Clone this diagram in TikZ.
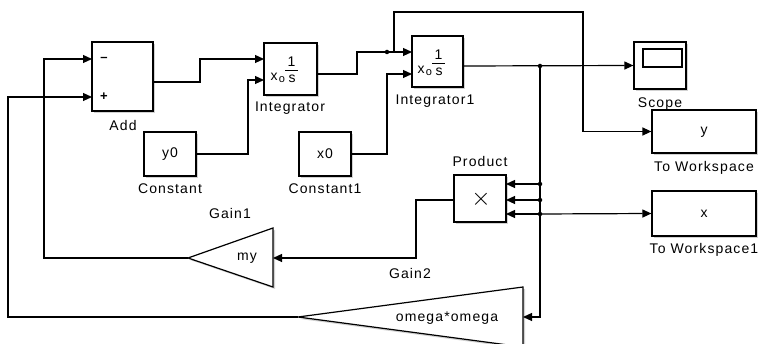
\documentclass[tikz,border=0pt]{standalone}
\usepackage{fontspec}
\setmainfont{Liberation Sans}
\newfontfamily\simfont[LetterSpace=8]{Liberation Sans}
\usetikzlibrary{arrows.meta,shadows}
\begin{document}
\begin{tikzpicture}[x=1pt,y=-1pt, line width=1.2pt,
  shad/.style={drop shadow={shadow xshift=2pt, shadow yshift=-2pt, fill=black!35, opacity=0.5}},
  blk/.style={draw, line width=1.2pt, fill=white, inner sep=0pt, shad},
  lbl/.style={font=\simfont\fontsize{14}{14}\selectfont, inner sep=0pt},
  txt/.style={font=\simfont\fontsize{14}{14}\selectfont, inner sep=0pt},
  sig/.style={-{Triangle[length=9pt,width=8pt]}},
  bdot/.style={circle, fill, inner sep=0pt, minimum size=4.5pt}]
\useasboundingbox (0,0) rectangle (761,344);
\clip (0,0) rectangle (761,344);
% blocks
\node[blk, minimum width=61pt, minimum height=69pt] (add) at (122.5,76.5) {};
\node[blk, minimum width=53pt, minimum height=52pt] (int) at (290.5,69) {};
\node[blk, minimum width=52pt, minimum height=44pt] (c0) at (170,154) {};
\node[blk, minimum width=52pt, minimum height=44pt] (c1) at (325,154) {};
\node[blk, minimum width=51pt, minimum height=51pt] (int1) at (437.5,61.5) {};
\node[blk, minimum width=52pt, minimum height=47pt] (scope) at (660,65.5) {};
\node[blk, minimum width=104pt, minimum height=43pt] (tows) at (704,131.5) {};
\node[blk, minimum width=104pt, minimum height=45pt] (tows1) at (704,213.5) {};
\node[blk, minimum width=52pt, minimum height=47pt] (prod) at (480,198.5) {};
\coordinate (g1tip) at (188,258);
\coordinate (g1in) at (273,258);
\path[draw, fill=white, shad] (g1tip) -- (273,228) -- (273,287) -- cycle;
\coordinate (g2tip) at (298,317);
\coordinate (g2in) at (523,317);
\path[draw, fill=white, shad] (g2tip) -- (523,287) -- (523,347) -- cycle;
% block contents
\node[txt] (y0t) at (170,154) {y0};
\node[txt] (x0t) at (325,154) {x0};
\node[txt] (yt) at (704,132) {y};
\node[txt] (xt) at (704,214) {x};
\node[txt] (myt) at (247,258) {my};
\node[txt] (omt) at (447,318) {omega*omega};
\node[font=\fontsize{24}{24}\selectfont, inner sep=0pt] (times) at (481,199) {$\times$};
\node[font=\bfseries\fontsize{13}{13}\selectfont, inner sep=0pt] (minus) at (104,59) {\char"2013};
\node[font=\bfseries\fontsize{13}{13}\selectfont, inner sep=0pt] (plus) at (104,97) {+};
\draw[line width=1.2pt] (643,49) rectangle (682,67);
% integrator contents
\node[txt] (i1n) at (291.5,62) {1};
\draw[line width=1pt] (285,70.5) -- (298,70.5);
\node[txt] (i1s) at (292,79) {s};
\node[font=\fontsize{14}{14}\selectfont, inner sep=0pt] (i1x) at (274,77) {x};
\node[font=\fontsize{11}{11}\selectfont, inner sep=0pt] (i1o) at (282,80) {o};
\node[txt] (i2n) at (438.5,55) {1};
\draw[line width=1pt] (432,63.5) -- (445,63.5);
\node[txt] (i2s) at (439,72) {s};
\node[font=\fontsize{14}{14}\selectfont, inner sep=0pt] (i2x) at (421,70) {x};
\node[font=\fontsize{11}{11}\selectfont, inner sep=0pt] (i2o) at (429,73) {o};
% labels
\node[lbl] (ladd) at (123,125) {Add};
\node[lbl] (lint) at (290,108) {Integrator};
\node[lbl] (lc0) at (170,189) {Constant};
\node[lbl] (lc1) at (325,189) {Constant1};
\node[lbl] (lint1) at (435,101) {Integrator1};
\node[lbl] (lsc) at (660,104) {Scope};
\node[lbl] (ltw) at (704,168) {To Workspace};
\node[lbl] (lpr) at (480,161) {Product};
\node[lbl] (ltw1) at (704,250) {To Workspace1};
\node[lbl] (lg1) at (230,213) {Gain1};
\node[lbl] (lg2) at (410,273) {Gain2};
% ports
\coordinate (addin1) at (92,59);
\coordinate (addin2) at (92,97);
\coordinate (addout) at (153,82);
\coordinate (intin1) at (264,59);
\coordinate (intin2) at (264,80);
\coordinate (intout) at (317,74);
\coordinate (int1in1) at (412,52);
\coordinate (int1in2) at (412,74);
\coordinate (int1out) at (463,66);
\coordinate (pin1) at (506,184);
\coordinate (pin2) at (506,200);
\coordinate (pin3) at (506,214);
\coordinate (pout) at (454,200);
\coordinate (br1) at (387,52);
\coordinate (br2) at (540,66);
\coordinate (br3) at (540,184);
\coordinate (br4) at (540,200);
\coordinate (br5) at (540,214);
% connectors
\draw[sig] (addout) -- (200,82) -- (200,59) -- (intin1);
\draw[sig] (c0.east) -- (248,154) -- (248,80) -- (intin2);
\draw[sig] (intout) -- (357,74) -- (357,52) -- (int1in1);
\draw[sig] (br1) -- (394,52) -- (394,12) -- (583,12) |- (tows.west);
\draw[sig] (c1.east) -- (387,154) -- (387,74) -- (int1in2);
\draw[sig] (int1out) -- (scope.west);
\draw[sig] (br2) -- (540,317) -- (g2in);
\draw[sig] (br3) -- (pin1);
\draw[sig] (br4) -- (pin2);
\draw[sig] (br5) -- (pin3);
\draw[sig] (br5) -- (tows1.west);
\draw[sig] (pout) -- (416,200) -- (416,258) -- (g1in);
\draw[sig] (g1tip) -- (44,258) -- (44,59) -- (addin1);
\draw[sig] (g2tip) -- (8,317) -- (8,97) -- (addin2);
\foreach \b in {br1,br2,br3,br4,br5} \node[bdot] at (\b) {};
\end{tikzpicture}
\end{document}
